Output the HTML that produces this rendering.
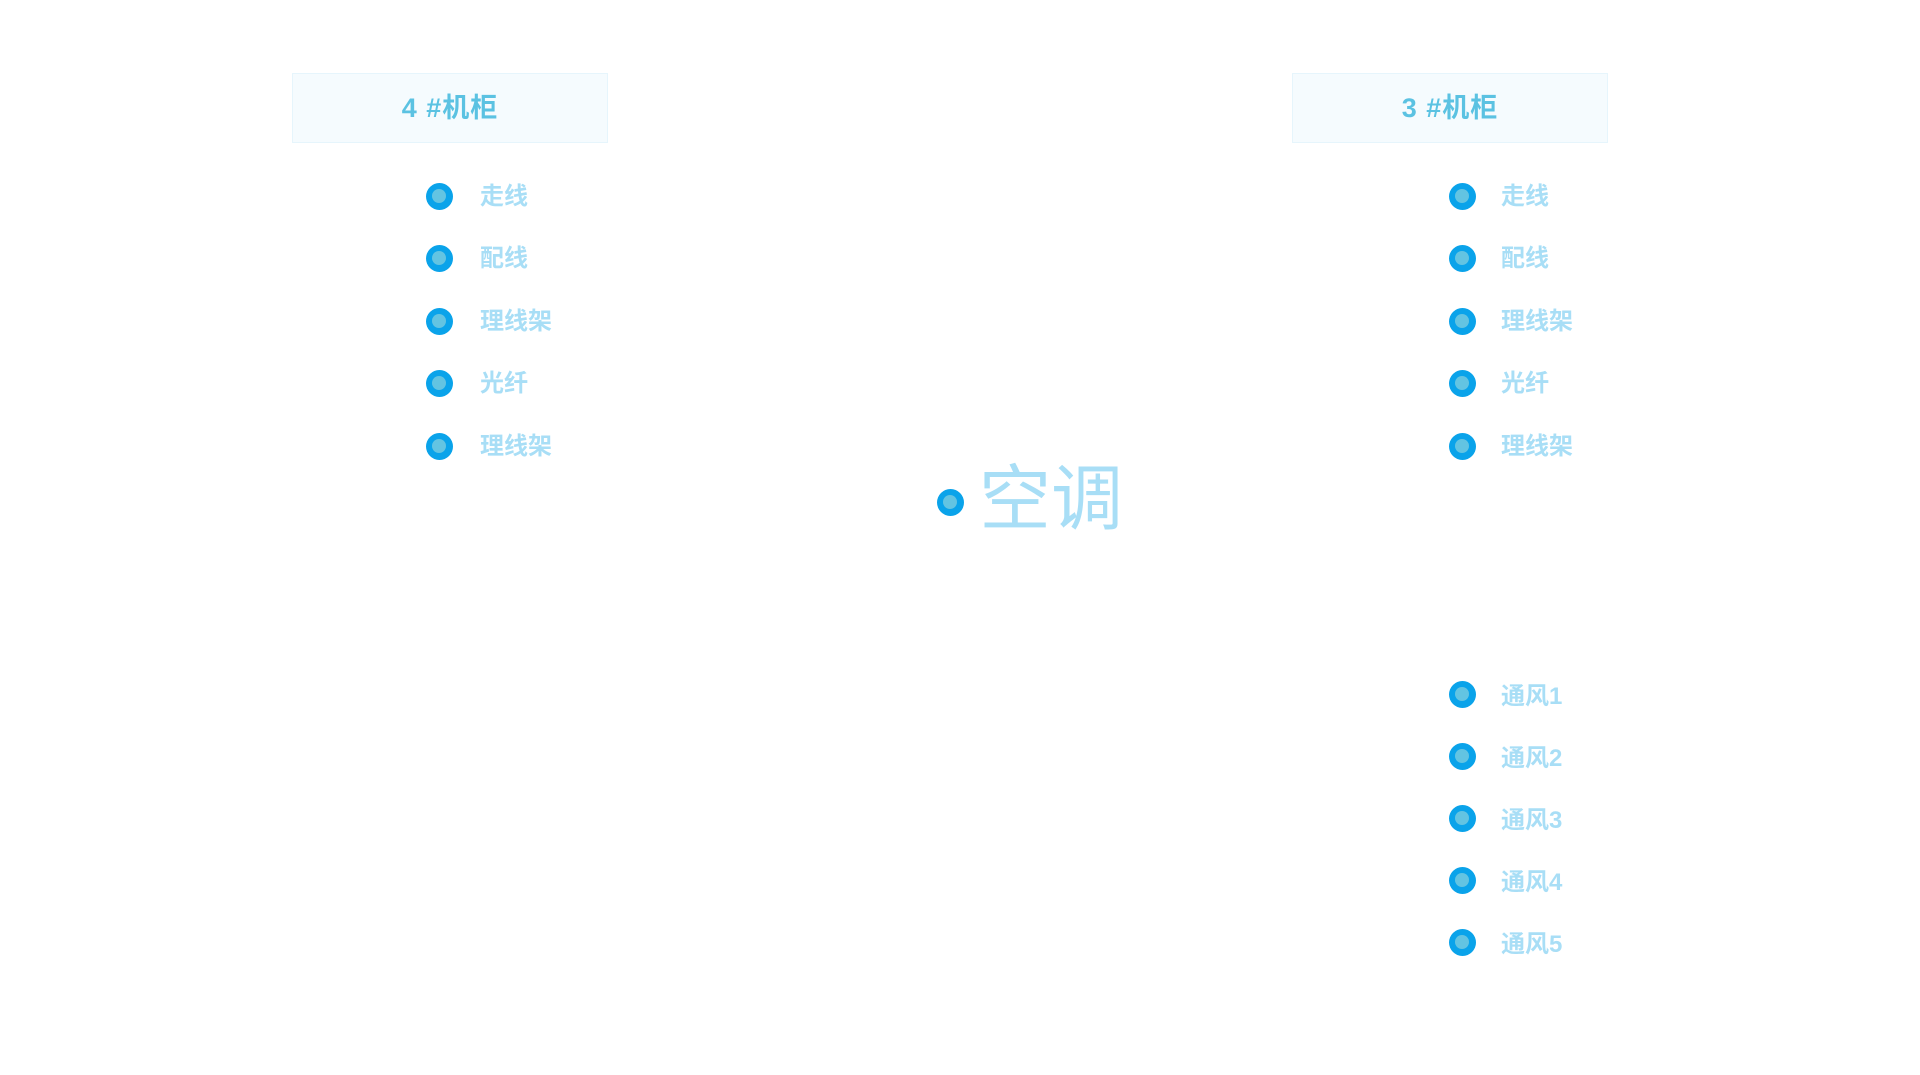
<!DOCTYPE html>
<html><head><meta charset="utf-8"><style>
body{margin:0;width:1920px;height:1075px;background:#fff;position:relative;overflow:hidden;font-family:"Liberation Sans","Noto Sans CJK SC",sans-serif}
.box{position:absolute;top:73px;width:316px;height:70px;background:#f5fbfe;border:1px solid #e6f5fc;box-sizing:border-box}
.box span{position:absolute;left:0;right:0;top:0;line-height:68px;text-align:center;font-size:27px;font-weight:bold;color:#5bc2e2;letter-spacing:1px}
.b{position:absolute;width:27px;height:27px;border-radius:50%;background:#0aa3ea;margin:-13.5px 0 0 -13.5px}
.b::after{content:"";position:absolute;left:6.5px;top:6.5px;width:14px;height:14px;border-radius:50%;background:#63c4e2}
.t{position:absolute;font-size:24px;font-weight:bold;color:#a8def6;line-height:30px;margin-top:-14px}
</style></head><body>
<div class="box" style="left:292px"><span>4 #机柜</span></div>
<div class="box" style="left:1292px"><span>3 #机柜</span></div>

<div class="b" style="left:439px;top:196px"></div><div class="t" style="left:480px;top:196px">走线</div>
<div class="b" style="left:439px;top:258px"></div><div class="t" style="left:480px;top:258px">配线</div>
<div class="b" style="left:439px;top:321px"></div><div class="t" style="left:480px;top:321px">理线架</div>
<div class="b" style="left:439px;top:383px"></div><div class="t" style="left:480px;top:383px">光纤</div>
<div class="b" style="left:439px;top:446px"></div><div class="t" style="left:480px;top:446px">理线架</div>

<div class="b" style="left:1462px;top:196px"></div><div class="t" style="left:1501px;top:196px">走线</div>
<div class="b" style="left:1462px;top:258px"></div><div class="t" style="left:1501px;top:258px">配线</div>
<div class="b" style="left:1462px;top:321px"></div><div class="t" style="left:1501px;top:321px">理线架</div>
<div class="b" style="left:1462px;top:383px"></div><div class="t" style="left:1501px;top:383px">光纤</div>
<div class="b" style="left:1462px;top:446px"></div><div class="t" style="left:1501px;top:446px">理线架</div>

<div class="b" style="left:1462px;top:694px"></div><div class="t" style="left:1501px;top:696px">通风1</div>
<div class="b" style="left:1462px;top:756px"></div><div class="t" style="left:1501px;top:758px">通风2</div>
<div class="b" style="left:1462px;top:818px"></div><div class="t" style="left:1501px;top:820px">通风3</div>
<div class="b" style="left:1462px;top:880px"></div><div class="t" style="left:1501px;top:882px">通风4</div>
<div class="b" style="left:1462px;top:942px"></div><div class="t" style="left:1501px;top:944px">通风5</div>

<div class="b" style="left:950px;top:502px"></div>
<div style="position:absolute;left:979px;top:455px;font-size:72px;line-height:90px;color:#a8def6">空调</div>
</body></html>
